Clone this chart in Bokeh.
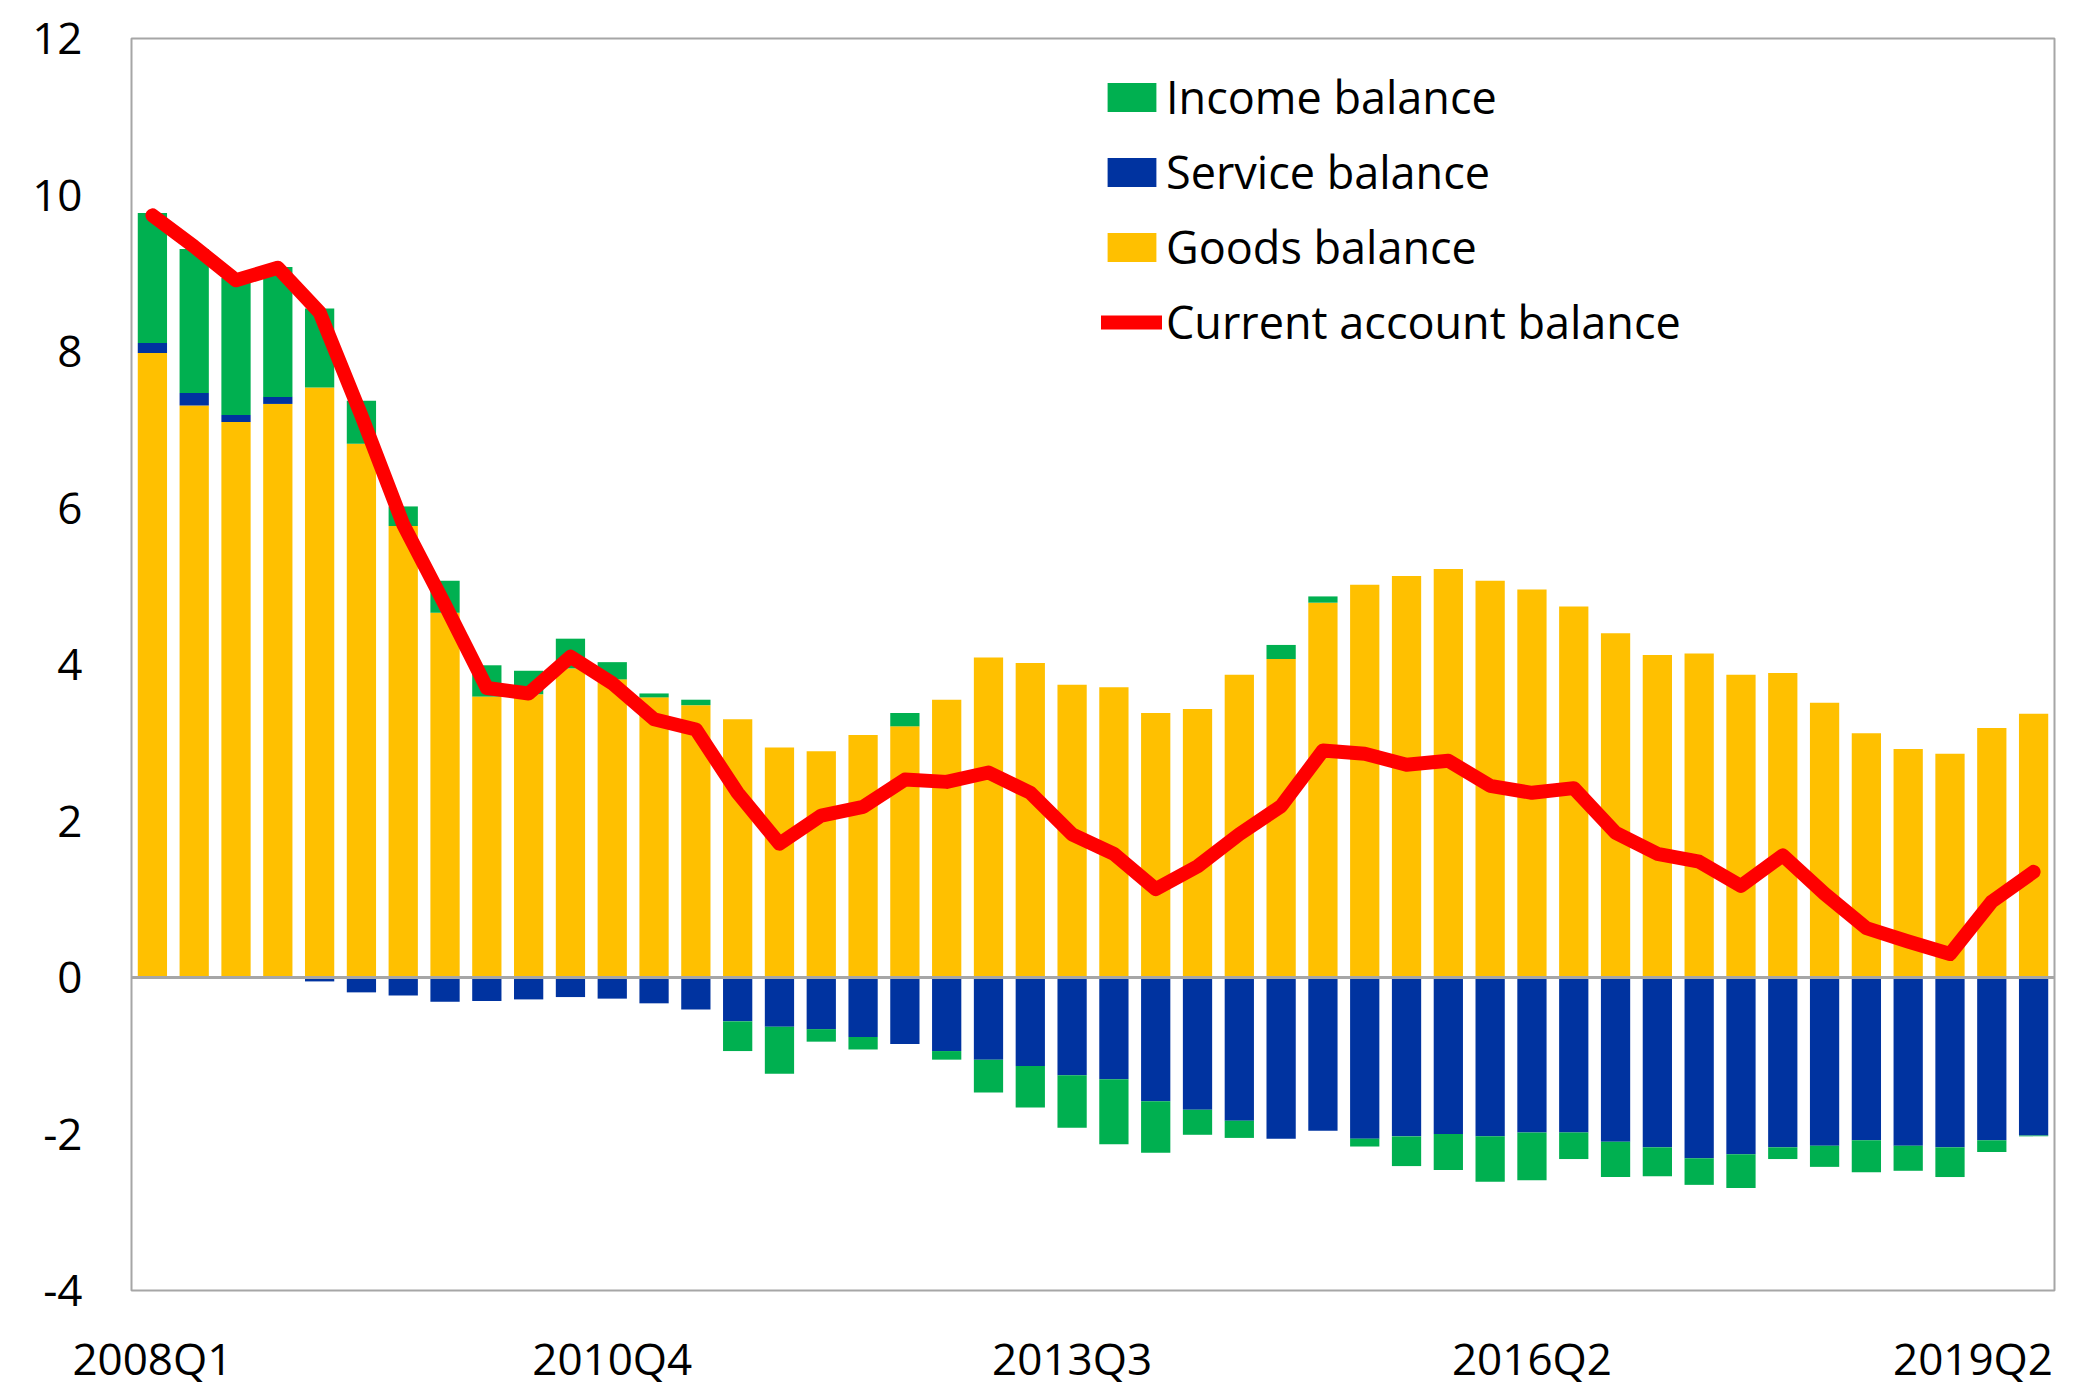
import numpy as np
from bokeh.plotting import figure
from bokeh.models import (Legend, LegendItem, FixedTicker, Span, Range1d)
from bokeh.embed import file_html
from bokeh.resources import INLINE

quarters = [
    "2008Q1", "2008Q2", "2008Q3", "2008Q4", "2009Q1", "2009Q2", "2009Q3", "2009Q4",
    "2010Q1", "2010Q2", "2010Q3", "2010Q4", "2011Q1", "2011Q2", "2011Q3", "2011Q4",
    "2012Q1", "2012Q2", "2012Q3", "2012Q4", "2013Q1", "2013Q2", "2013Q3", "2013Q4",
    "2014Q1", "2014Q2", "2014Q3", "2014Q4", "2015Q1", "2015Q2", "2015Q3", "2015Q4",
    "2016Q1", "2016Q2", "2016Q3", "2016Q4", "2017Q1", "2017Q2", "2017Q3", "2017Q4",
    "2018Q1", "2018Q2", "2018Q3", "2018Q4", "2019Q1", "2019Q2",
]

goods = [7.98, 7.31, 7.10, 7.33, 7.54, 6.82, 5.77, 4.66, 3.59, 3.62, 3.95, 3.81,
         3.58, 3.48, 3.30, 2.94, 2.89, 3.10, 3.21, 3.55, 4.09, 4.02, 3.74, 3.71,
         3.38, 3.43, 3.87, 4.07, 4.79, 5.02, 5.13, 5.22, 5.07, 4.96, 4.74, 4.40,
         4.12, 4.14, 3.87, 3.89, 3.51, 3.12, 2.92, 2.86, 3.19, 3.37]
service = [0.13, 0.16, 0.09, 0.09, -0.05, -0.19, -0.23, -0.31, -0.30, -0.28, -0.25, -0.27,
           -0.33, -0.41, -0.56, -0.63, -0.66, -0.76, -0.85, -0.94, -1.05, -1.13, -1.25, -1.30,
           -1.58, -1.69, -1.83, -2.06, -1.96, -2.06, -2.03, -2.00, -2.03, -1.98, -1.98, -2.10,
           -2.17, -2.31, -2.26, -2.17, -2.15, -2.08, -2.15, -2.17, -2.08, -2.02]
income = [1.66, 1.84, 1.75, 1.66, 1.01, 0.55, 0.25, 0.41, 0.40, 0.30, 0.38, 0.22,
          0.05, 0.07, -0.38, -0.60, -0.16, -0.16, 0.17, -0.11, -0.42, -0.53, -0.67, -0.83,
          -0.66, -0.32, -0.22, 0.18, 0.08, -0.10, -0.38, -0.46, -0.58, -0.61, -0.34, -0.45,
          -0.37, -0.34, -0.43, -0.15, -0.27, -0.41, -0.32, -0.38, -0.15, -0.01]
current_account = [9.74, 9.34, 8.91, 9.07, 8.50, 7.18, 5.79, 4.76, 3.70, 3.63, 4.10, 3.76,
                   3.30, 3.17, 2.36, 1.71, 2.07, 2.18, 2.53, 2.50, 2.62, 2.36, 1.83, 1.58,
                   1.13, 1.42, 1.83, 2.19, 2.90, 2.86, 2.72, 2.77, 2.45, 2.36, 2.42, 1.85,
                   1.58, 1.48, 1.17, 1.56, 1.07, 0.63, 0.46, 0.30, 0.97, 1.35]

y_ticks = [-4, -2, 0, 2, 4, 6, 8, 10, 12]
# shown category labels; the last one is pulled inside the plot edge as in the original
x_label_idx = [0, 11, 22, 33, 45]
x_label_pos = [0, 11, 22, 33, 43.55]

FONT = "Open Sans"
C_GOODS = "#FFC000"
C_SERVICE = "#0033A0"
C_INCOME = "#00B050"
C_CA = "#FF0000"

x = np.arange(len(quarters))

p = figure(frame_width=1923, frame_height=1252, min_border_left=131, min_border_top=38,
           min_border_right=6, min_border_bottom=60,
           output_backend="svg", toolbar_location=None,
           x_range=Range1d(-0.5, len(quarters) - 0.5), y_range=Range1d(-4, 12))

pos_base = np.zeros(len(quarters))
neg_base = np.zeros(len(quarters))
renderers = {}
for name, vals, col in [("goods", goods, C_GOODS), ("service", service, C_SERVICE),
                        ("income", income, C_INCOME)]:
    v = np.array(vals)
    bottom = np.where(v >= 0, pos_base, neg_base)
    top = bottom + v
    pos_base = np.where(v >= 0, top, pos_base)
    neg_base = np.where(v < 0, top, neg_base)
    renderers[name] = p.vbar(x=x, bottom=bottom, top=top, width=0.7,
                             fill_color=col, line_color=None)

p.add_layout(Span(location=0, dimension="width", line_color="#A6A6A6", line_width=3))

ca = p.line(x, current_account, line_color=C_CA, line_width=14,
            line_join="round", line_cap="round")

legend = Legend(items=[
    LegendItem(label="Income balance", renderers=[renderers["income"]]),
    LegendItem(label="Service balance", renderers=[renderers["service"]]),
    LegendItem(label="Goods balance", renderers=[renderers["goods"]]),
    LegendItem(label="Current account balance", renderers=[ca]),
], location=(970, 938), orientation="vertical",
    label_text_font=FONT, label_text_font_size="45px", label_text_color="#000000",
    glyph_width=61, glyph_height=36, label_standoff=4, spacing=14,
    padding=0, margin=0, border_line_color=None, background_fill_alpha=0)
p.add_layout(legend)

p.outline_line_color = "#A6A6A6"
p.outline_line_width = 2
p.xgrid.visible = False
p.ygrid.visible = False

p.yaxis.ticker = FixedTicker(ticks=y_ticks)
p.yaxis.major_label_overrides = {t: str(t) for t in y_ticks}
p.xaxis.ticker = FixedTicker(ticks=x_label_pos)
p.xaxis.major_label_overrides = {pos: quarters[i] for pos, i in zip(x_label_pos, x_label_idx)}
for ax in (p.xaxis, p.yaxis):
    ax.axis_line_color = None
    ax.major_tick_line_color = None
    ax.minor_tick_line_color = None
    ax.major_label_text_font = FONT
    ax.major_label_text_font_size = "44px"
    ax.major_label_text_color = "#000000"
p.yaxis.major_label_standoff = 43
p.xaxis.major_label_standoff = 31

open("out.html", "w").write(file_html(p, INLINE))
